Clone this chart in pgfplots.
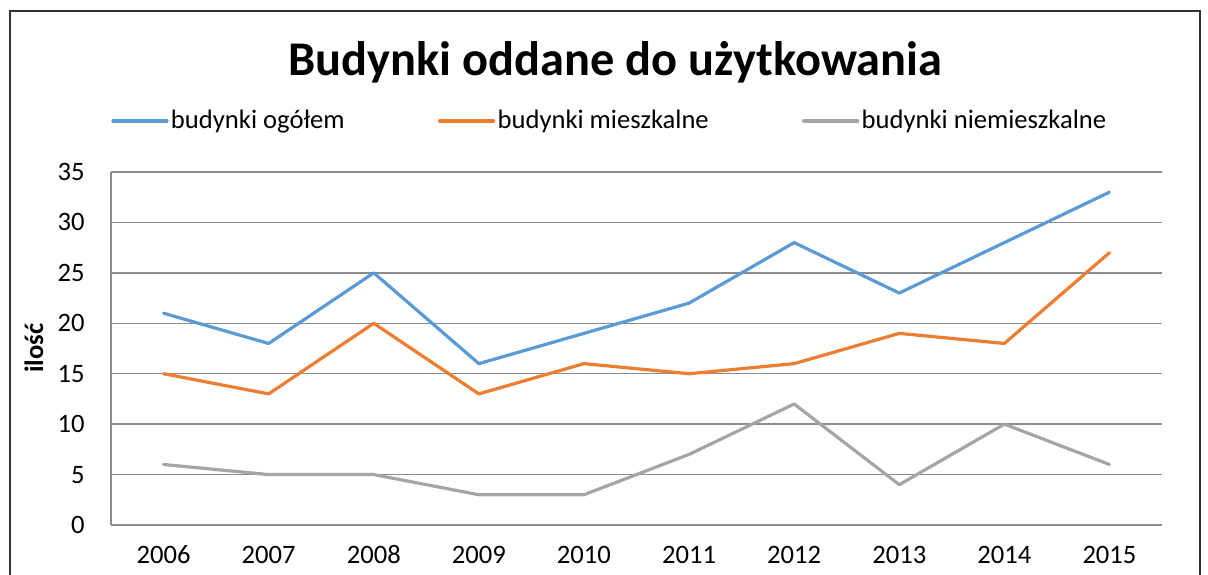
\documentclass[border=0pt]{standalone}
\usepackage{pgfplots}
\pgfplotsset{compat=1.18}
\usepackage{fontspec}
\setmainfont{Carlito}
\definecolor{cblue}{HTML}{5B9BD5}
\definecolor{corange}{HTML}{ED7D31}
\definecolor{cgray}{HTML}{A5A5A5}
\definecolor{gridc}{HTML}{8C8C8C}
\begin{document}
\begin{tikzpicture}[x=1pt,y=1pt]
\useasboundingbox (0,0) rectangle (604,287);
\draw[line width=0.75pt, black!80] (5,-20) -- (5,281.5) -- (600,281.5) -- (600,-20);
\node[anchor=base, font=\fontsize{24.2}{28}\selectfont\bfseries] at (307.5,249) {Budynki oddane do użytkowania};
\node[anchor=base, rotate=90, font=\fontsize{13.3}{15}\selectfont\bfseries] at (21.5,113) {ilość};
\begin{axis}[
  at={(55.5pt,24.5pt)}, anchor=south west,
  scale only axis, width=525.5pt, height=176.5pt,
  xmin=-0.5, xmax=9.5, ymin=0, ymax=35,
  xtick={0,...,9},
  xticklabels={2006,2007,2008,2009,2010,2011,2012,2013,2014,2015},
  ytick={0,5,...,35},
  major tick length=0pt,
  ymajorgrids, grid style={gridc, line width=0.7pt},
  axis x line*=bottom, axis y line*=left,
  axis line style={gridc, line width=0.7pt, -},
  /pgf/number format/assume math mode=true,
  ticklabel style={font=\fontsize{13.3}{15}\selectfont},
  yticklabel style={anchor=east, inner sep=0pt, xshift=-13pt},
  xticklabel style={anchor=base, inner sep=0pt, yshift=-19pt},
  legend columns=3,
  legend style={draw=none, fill=none, at={(0.0,1.1445)}, anchor=west,
    inner sep=0pt, font=\fontsize{13.3}{15}\selectfont,
    nodes={inner xsep=1.2pt, inner ysep=0pt},
    /tikz/every even column/.append style={column sep=45.5pt}},
  legend image code/.code={\draw[#1] (0pt,0pt) -- (27pt,0pt);},
  every axis plot/.append style={line width=1.6pt, line join=round, line cap=round},
]
\addplot[cblue] coordinates {(0,21) (1,18) (2,25) (3,16) (4,19) (5,22) (6,28) (7,23) (8,28) (9,33)};
\addplot[corange] coordinates {(0,15) (1,13) (2,20) (3,13) (4,16) (5,15) (6,16) (7,19) (8,18) (9,27)};
\addplot[cgray] coordinates {(0,6) (1,5) (2,5) (3,3) (4,3) (5,7) (6,12) (7,4) (8,10) (9,6)};
\legend{budynki ogółem, budynki mieszkalne, budynki niemieszkalne}
\end{axis}
\end{tikzpicture}
\end{document}
